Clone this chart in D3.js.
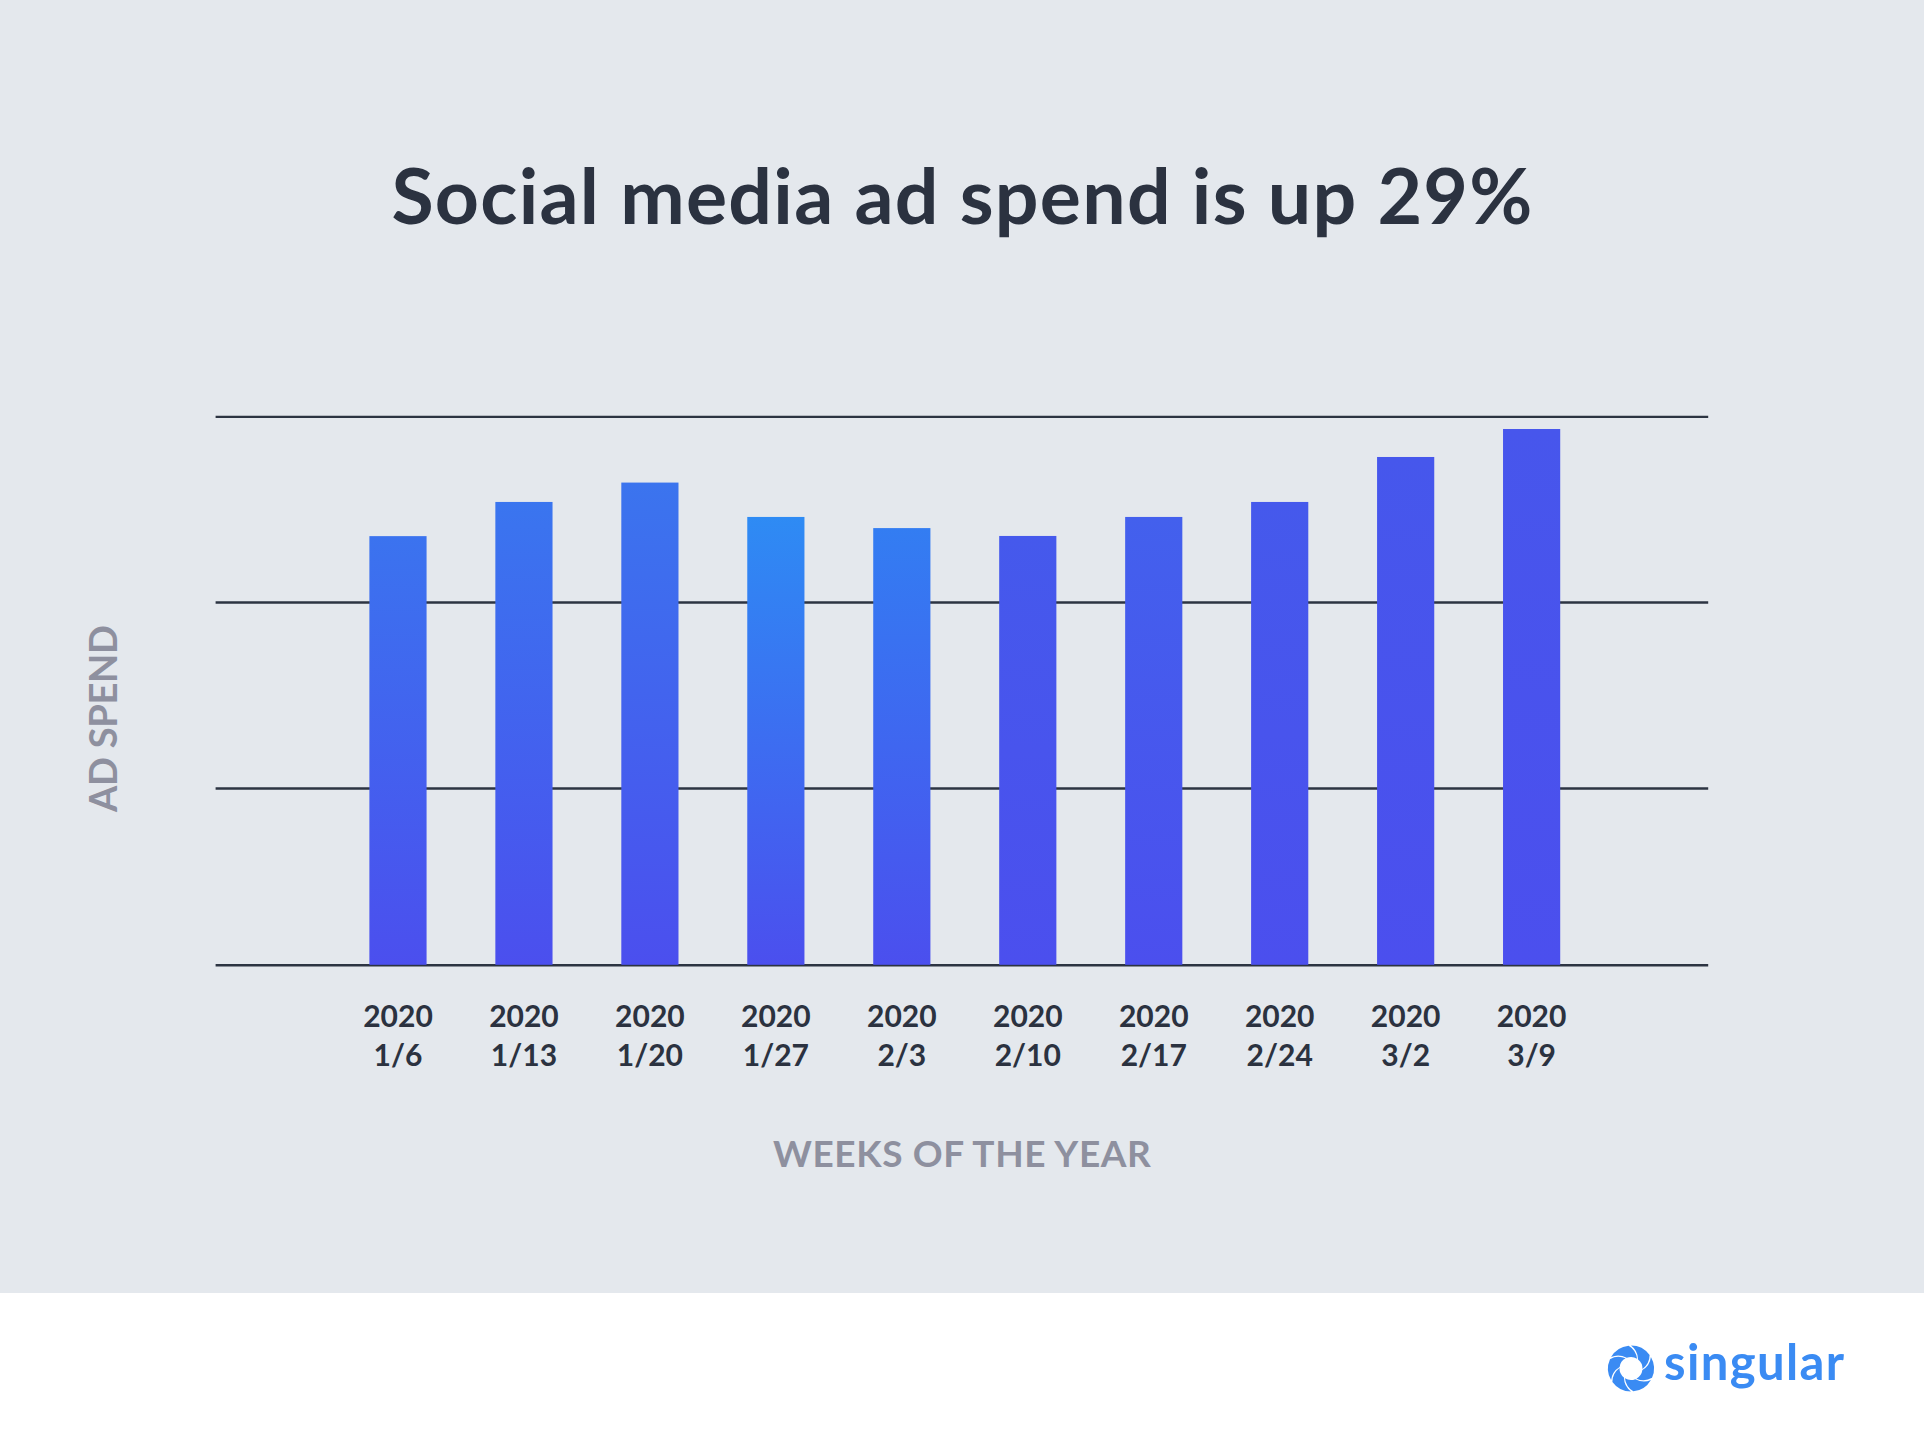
<!DOCTYPE html>
<html>
<head>
<meta charset="utf-8">
<script src="https://cdn.jsdelivr.net/npm/d3@7"></script>
<style>
  html, body { margin: 0; padding: 0; background: #ffffff; }
  svg { display: block; }
</style>
</head>
<body>
<svg id="chart" width="1924" height="1448"></svg>
<script>
// ---------------- data ----------------
const yearLabel = "2020";
const weeks = ["1/6", "1/13", "1/20", "1/27", "2/3", "2/10", "2/17", "2/24", "3/2", "3/9"];
const adSpend = [234.5, 253.2, 263.8, 245.0, 238.9, 234.6, 245.0, 253.2, 277.8, 293.1];
const gridValues = [0, 96.7, 198.5, 300];
const titleText = "Social media ad spend is up 29%";
const xAxisTitle = "WEEKS OF THE YEAR";
const yAxisTitle = "AD SPEND";
const brandText = "singular";

// ---------------- styles ----------------
const barTopColors = ["#3b73ef", "#3a75ef", "#3b74ee", "#2e8bf4", "#337df2",
                      "#4559ec", "#4360ed", "#4559ec", "#4657ec", "#4756ec"];
const barBottomColor = "#4b4fee";
const bgColor = "#e4e8ed";
const darkText = "#2b3240";
const grayText = "#8e909f";
const gridColor = "#2c3442";
const brandColor = "#3a8bf3";
const fontFamily = "Lato, 'Noto Sans', sans-serif";

const W = 1924, H = 1448;
const svg = d3.select("#chart");

// background panels
svg.append("rect").attr("x", 0).attr("y", 0).attr("width", W).attr("height", 1293).attr("fill", bgColor);
svg.append("rect").attr("x", 0).attr("y", 1293).attr("width", W).attr("height", H - 1293).attr("fill", "#ffffff");

// scales
const plotLeft = 215.6, plotRight = 1708.2;
const x = d3.scaleBand()
  .domain(weeks)
  .range([335.0, 1594.6])
  .paddingInner(0.546)
  .paddingOuter(0.273);
const y = d3.scaleLinear().domain([0, 300]).range([964.8, 416.4]);

// gridlines via axis
const gridAxis = d3.axisLeft(y)
  .tickValues(gridValues)
  .tickSize(0)
  .tickFormat("");
const gridG = svg.append("g")
  .attr("transform", `translate(${plotLeft},0)`)
  .call(gridAxis);
gridG.select(".domain").remove();
gridG.selectAll(".tick line")
  .attr("x1", 0).attr("x2", plotRight - plotLeft)
  .attr("stroke", gridColor).attr("stroke-width", 2.4);

// gradients
const defs = svg.append("defs");
weeks.forEach((w, i) => {
  const g = defs.append("linearGradient")
    .attr("id", "barGrad" + i)
    .attr("x1", 0).attr("y1", 0).attr("x2", 0).attr("y2", 1);
  g.append("stop").attr("offset", "0%").attr("stop-color", barTopColors[i]);
  g.append("stop").attr("offset", "100%").attr("stop-color", barBottomColor);
});

// bars
svg.append("g").selectAll("rect")
  .data(weeks)
  .join("rect")
  .attr("x", d => x(d))
  .attr("width", x.bandwidth())
  .attr("y", (d, i) => y(adSpend[i]))
  .attr("height", (d, i) => y(0) - y(adSpend[i]))
  .attr("fill", (d, i) => `url(#barGrad${i})`);

// x tick labels
const xAxis = d3.axisBottom(x).tickSize(0).tickFormat("");
const xg = svg.append("g").attr("transform", `translate(0,${y(0)})`).call(xAxis);
xg.select(".domain").remove();
xg.selectAll(".tick").each(function(d) {
  const t = d3.select(this).append("text")
    .attr("text-anchor", "middle")
    .attr("font-family", fontFamily)
    .attr("font-weight", 700)
    .attr("font-size", 30)
    .attr("fill", darkText);
  t.append("tspan").attr("x", 0).attr("y", 1026.7 - 964.8).text(yearLabel);
  t.append("tspan").attr("x", 0).attr("y", 1066 - 964.8).text(d);
});

// title
svg.append("text")
  .attr("x", (plotLeft + plotRight) / 2)
  .attr("y", 223.5)
  .attr("text-anchor", "middle")
  .attr("font-family", fontFamily)
  .attr("font-weight", 700)
  .attr("font-size", 77)
  .attr("textLength", 1141)
  .attr("lengthAdjust", "spacing")
  .attr("fill", darkText)
  .text(titleText);

// x axis title
svg.append("text")
  .attr("x", (plotLeft + plotRight) / 2)
  .attr("y", 1166.7)
  .attr("text-anchor", "middle")
  .attr("font-family", fontFamily)
  .attr("font-weight", 700)
  .attr("font-size", 37)
  .attr("textLength", 378)
  .attr("lengthAdjust", "spacing")
  .attr("fill", grayText)
  .text(xAxisTitle);

// y axis title
svg.append("text")
  .attr("transform", "translate(116.7,718.5) rotate(-90)")
  .attr("text-anchor", "middle")
  .attr("font-family", fontFamily)
  .attr("font-weight", 700)
  .attr("font-size", 38)
  .attr("textLength", 187)
  .attr("lengthAdjust", "spacing")
  .attr("fill", grayText)
  .text(yAxisTitle);

// brand logo (ring of six curved blades)
const logo = svg.append("g").attr("transform", "translate(1631,1368.5)");
const R = 23, r = 11.5, span = 54, phi = 38;
const rad = deg => (deg - 90) * Math.PI / 180;
const polar = (rr, deg) => [rr * Math.cos(rad(deg)), rr * Math.sin(rad(deg))];
const bladePath = k => {
  const a = k * 60;
  const p = d3.path();
  const o1 = polar(R, a);
  p.moveTo(o1[0], o1[1]);
  p.arc(0, 0, R, rad(a), rad(a + span), false);
  const i2 = polar(r, a + span + phi);
  const c2 = polar((R + r) / 2 + 2, a + span + phi * 0.55);
  p.quadraticCurveTo(c2[0], c2[1], i2[0], i2[1]);
  p.arc(0, 0, r, rad(a + span + phi), rad(a + phi), true);
  const c1 = polar((R + r) / 2 + 2, a + phi * 0.55);
  p.quadraticCurveTo(c1[0], c1[1], o1[0], o1[1]);
  p.closePath();
  return p.toString();
};
logo.selectAll("path").data(d3.range(6)).join("path")
  .attr("d", bladePath)
  .attr("fill", brandColor);
svg.append("text")
  .attr("x", 1664)
  .attr("y", 1380)
  .attr("font-family", fontFamily)
  .attr("font-weight", 700)
  .attr("font-size", 49)
  .attr("textLength", 180)
  .attr("lengthAdjust", "spacing")
  .attr("fill", brandColor)
  .text(brandText);
</script>
</body>
</html>
